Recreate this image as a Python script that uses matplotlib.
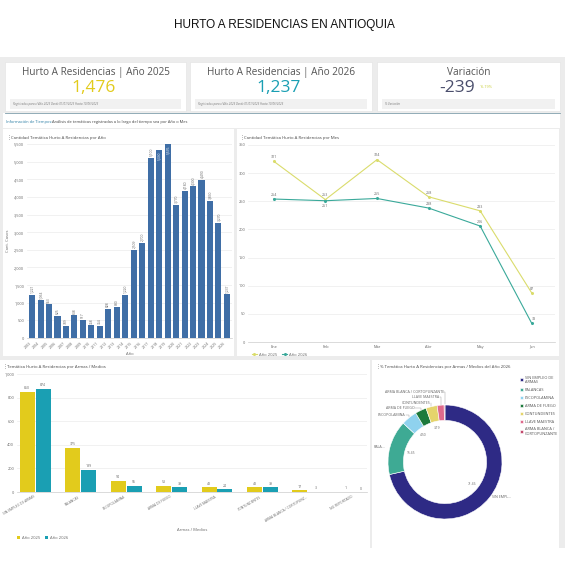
import matplotlib
matplotlib.use("Agg")
import matplotlib.pyplot as plt
from matplotlib.patches import Rectangle
import numpy as np
import textwrap

plt.rcParams['font.family'] = ['Open Sans', 'DejaVu Sans']

# ---------------- data ----------------
years = [str(y) for y in range(2003, 2027)]
cases_by_year = [1221, 1064, 953, 625, 339, 638, 517, 358, 354, 828, 880, 1220,
                 2509, 2700, 5100, 5330, 5576, 3770, 4180, 4300, 4490, 3890, 3270, 1237]
months = ['Ene', 'Feb', 'Mar', 'Abr', 'May', 'Jun']
month_2025 = [321, 253, 324, 258, 233, 87]
month_2026 = [254, 251, 255, 238, 206, 33]
weapons = ['SIN EMPLEO DE ARMAS', 'PALANCAS', 'ESCOPOLAMINA', 'ARMA DE FUEGO',
           'LLAVE MAESTRA', 'CONTUNDENTES', 'ARMA BLANCA / CORTOPUNZANTE', 'NO REPORTADO']
weapons_2025 = [850, 375, 94, 53, 43, 43, 17, 1]
weapons_2026 = [874, 189, 55, 39, 24, 39, 3, 0]
donut_order = ['SIN EMPLEO DE ARMAS', 'PALANCAS', 'ESCOPOLAMINA', 'ARMA DE FUEGO',
               'CONTUNDENTES', 'LLAVE MAESTRA', 'ARMA BLANCA / CORTOPUNZANTE']
donut_short = ['SIN EMPL...', 'PALA...', 'ESCOPOLAMINA', 'ARMA DE FUEGO',
               'CONTUNDENTES', 'LLAVE MAESTRA', 'ARMA BLANCA / CORTOPUNZANTE']
total_2025 = 1476
total_2026 = 1237
series_names = ['Año 2025', 'Año 2026']

# ---------------- styling ----------------
W = H = 565
C_YEL = '#e2cb1c'
C_TEAL = '#1a9fb3'
C_BLUE = '#3f6ea6'
C_L25 = '#dadc6c'
C_L26 = '#3aa99a'
DONUT_COLORS = ['#2e2a85', '#3eaa94', '#8fd2ee', '#1d7a3c', '#e5d46c', '#df6a8c', '#c3486c']
GRID = '#ececec'
TXT = '#666666'

fig = plt.figure(figsize=(5.65, 5.65), dpi=100)
fig.patch.set_facecolor('white')


def px_axes(x0, y0, w, h, z=2):
    return fig.add_axes([x0 / W, 1 - (y0 + h) / H, w / W, h / H], zorder=z)


bg = fig.add_axes([0, 0, 1, 1], zorder=0)
bg.set_xlim(0, W)
bg.set_ylim(H, 0)
bg.axis('off')


def rect(x, y, w, h, c, **kw):
    bg.add_patch(Rectangle((x, y), w, h, facecolor=c, edgecolor=kw.pop('ec', 'none'),
                           lw=kw.pop('lw', 0), **kw))


# page background
rect(0, 57, 565, 491, '#ececec')
bg.text(284, 25, 'HURTO A RESIDENCIAS EN ANTIOQUIA', ha='center', va='center',
        fontsize=8.5, family=['Liberation Sans', 'DejaVu Sans'], color='#111111')

# KPI cards
var = total_2026 - total_2025
var_pct = abs(var) / total_2025 * 100
cards = [
    (5, 181, 'Hurto A Residencias | Año 2025', f'{total_2025:,}', C_YEL,
     'Registrados para el Año 2025 Desde 01/01/2025 Hasta 10/06/2025'),
    (190, 182, 'Hurto A Residencias | Año 2026', f'{total_2026:,}', C_TEAL,
     'Registrados para el Año 2026 Desde 01/01/2026 Hasta 10/06/2026'),
    (377, 183, 'Variación', f'{var:,}', '#4a4e6c', '% Variación'),
]
for i, (x, w, title, val, col, foot) in enumerate(cards):
    rect(x, 62, w, 49, 'white', ec='#e2e2e2', lw=0.4)
    rect(x + 5, 99, w - 10, 9.5, '#f1f1f1')
    cx = x + w / 2
    bg.text(cx, 72.5, title, ha='center', va='center', fontsize=7.2, color='#555555')
    if i < 2:
        bg.text(cx - 2, 88.5, val, ha='center', va='center', fontsize=12.5, color=col)
    else:
        bg.text(cx - 11, 88.5, val, ha='center', va='center', fontsize=12.5, color=col)
        bg.text(cx + 11, 86.5, f'{var_pct:.2f}%', ha='left', va='center',
                fontsize=2.8, color='#c9cf3c')
    bg.text(x + 8, 103.8, foot, ha='left', va='center', fontsize=2.1,
            color='#777777', style='italic')

# info strip
rect(3, 113, 557, 15, 'white')
bg.plot([5, 560], [113.3, 113.3], color='#7f9dab', lw=0.6)
bg.text(6, 122, 'Información de Tiempos:', ha='left', va='center', fontsize=2.9,
        color='#2c7ea5')
bg.text(52.5, 122, 'Análisis de temáticas registradas a lo largo del tiempo sea por Año o Mes',
        ha='left', va='center', fontsize=2.9, color='#444444')

# panels
rect(3, 129, 231, 227, 'white')
rect(237, 129, 322, 227, 'white')
rect(0, 360, 370, 188, 'white')
rect(372, 360, 187, 188, 'white')
rect(0, 548, 565, 17, 'white')


def panel_title(x, y, s):
    bg.text(x, y, '⋮', ha='left', va='center', fontsize=3.6, color='#555555',
            family='DejaVu Sans')
    bg.text(x + 4, y, s, ha='left', va='center', fontsize=3.1, color='#444444')


panel_title(7, 137.5, 'Cantidad Temática Hurto A Residencias por Año')
panel_title(240, 137.5, 'Cantidad Temática Hurto A Residencias por Mes')
panel_title(3, 367, 'Temática Hurto A Residencias por Armas / Medios')
panel_title(376, 367, '% Temática Hurto A Residencias por Armas / Medios del Año 2026')


def style_axes(ax):
    for s in ['top', 'right', 'left']:
        ax.spines[s].set_visible(False)
    ax.spines['bottom'].set_color('#cccccc')
    ax.spines['bottom'].set_linewidth(0.5)
    ax.tick_params(length=0, labelsize=2.8, colors=TXT, pad=2)
    ax.grid(axis='y', color=GRID, lw=0.5)
    ax.set_axisbelow(True)
    ax.set_facecolor('none')


# ---------------- chart 1: por año ----------------
ax1 = px_axes(27, 144, 205, 194)
style_axes(ax1)
x = np.arange(len(years))
ax1.bar(x, cases_by_year, width=0.72, color=C_BLUE)
ymax1 = 5500
ax1.set_ylim(0, ymax1)
ax1.set_xlim(-0.6, len(years) - 0.4)
ax1.set_yticks(np.arange(0, 5501, 500))
ax1.set_yticklabels([f'{v:,}' for v in range(0, 5501, 500)])
ax1.set_xticks(x)
ax1.set_xticklabels(years, rotation=45, ha='right', fontsize=2.6)
ax1.set_ylabel('Cant. Casos', fontsize=3, color=TXT, labelpad=3)
ax1.set_xlabel('Año', fontsize=3, color=TXT, labelpad=2)
for xi, v in zip(x, cases_by_year):
    if v + 330 > ymax1:
        ax1.text(xi, min(v, ymax1) - 60, f'{v:,}', rotation=90, ha='center', va='top',
                 fontsize=2.4, color='white')
    else:
        ax1.text(xi, v + 50, f'{v:,}', rotation=90, ha='center', va='bottom',
                 fontsize=2.4, color=TXT)

# ---------------- chart 2: por mes ----------------
ax2 = px_axes(248, 145, 307, 197)
style_axes(ax2)
xm = np.arange(len(months))
l1, = ax2.plot(xm, month_2025, color=C_L25, lw=0.8, marker='o', ms=1.2)
l2, = ax2.plot(xm, month_2026, color=C_L26, lw=0.8, marker='o', ms=1.2)
ax2.set_xlim(-0.5, 5.45)
ax2.set_ylim(0, 350)
ax2.set_yticks(np.arange(0, 351, 50))
ax2.set_xticks(xm)
ax2.set_xticklabels(months)
for xi, v in zip(xm, month_2025):
    ax2.text(xi, v + 4, str(v), ha='center', va='bottom', fontsize=2.6, color=TXT)
for xi, v in zip(xm, month_2026):
    off = -5 if xi == 1 else 4
    ax2.text(xi + (0.05 if xi == 5 else 0), v + off, str(v), ha='center',
             va='top' if off < 0 else 'bottom', fontsize=2.6, color=TXT)
ax2.legend([l1, l2], series_names, loc='upper left', bbox_to_anchor=(248 / W, 1 - 349 / H),
           bbox_transform=fig.transFigure, ncol=2, frameon=False, fontsize=3,
           handlelength=1.2, columnspacing=1.2, handletextpad=0.5, labelcolor=TXT)

# ---------------- chart 3: armas/medios ----------------
ax3 = px_axes(17, 374, 350, 118)
style_axes(ax3)
xw = np.arange(len(weapons))
bw = 0.33
b1 = ax3.bar(xw - bw / 2 - 0.01, weapons_2025, width=bw, color=C_YEL)
b2 = ax3.bar(xw + bw / 2 + 0.01, weapons_2026, width=bw, color=C_TEAL)
ax3.set_ylim(0, 1000)
ax3.set_xlim(-0.4, 7.3)
ax3.set_yticks(np.arange(0, 1001, 200))
ax3.set_yticklabels([f'{v:,}' for v in range(0, 1001, 200)])
ax3.set_xticks(xw)
ax3.set_xticklabels([w if len(w) < 24 else w[:23] + '...' for w in weapons],
                    rotation=30, ha='right', fontsize=2.3)
ax3.set_xlabel('Armas / Medios', fontsize=3, color=TXT, labelpad=4)
for xi, v in zip(xw, weapons_2025):
    ax3.text(xi - bw / 2 - 0.01, v + 12, str(v), ha='center', va='bottom', fontsize=2.5, color=TXT)
for xi, v in zip(xw, weapons_2026):
    ax3.text(xi + bw / 2 + 0.01, v + 12, str(v), ha='center', va='bottom', fontsize=2.5, color=TXT)
ax3.legend([b1, b2], series_names, loc='upper left', bbox_to_anchor=(13 / W, 1 - 532 / H),
           bbox_transform=fig.transFigure, ncol=2, frameon=False, fontsize=3,
           handlelength=0.7, handleheight=0.7, columnspacing=1.2, handletextpad=0.5,
           labelcolor=TXT)

# ---------------- chart 4: donut ----------------
ax4 = px_axes(388, 405, 114, 114)
ax4.axis('off')
dvals = [weapons_2026[weapons.index(n)] for n in donut_order]
dtotal = sum(dvals)
wedges, _ = ax4.pie(dvals, colors=DONUT_COLORS, startangle=90, counterclock=False,
                    radius=1.0, wedgeprops=dict(width=0.27, edgecolor='white', lw=0.4))
ax4.set_xlim(-1, 1)
ax4.set_ylim(-1, 1)
ax4.set_aspect('equal')
last_ang = None
for i, wdg in enumerate(wedges):
    ang = np.deg2rad((wdg.theta1 + wdg.theta2) / 2)
    pct = dvals[i] / dtotal * 100
    if pct >= 1 and (last_ang is None or abs(ang - last_ang) > np.deg2rad(14)):
        ax4.text(0.62 * np.cos(ang), 0.62 * np.sin(ang), f'{pct:.2f}', ha='center',
                 va='center', fontsize=2.4, color=TXT)
        last_ang = ang
# outer labels (layout positions in radius units)
label_xy = [(0.83, -0.61), (-1.05, 0.26), (-0.70, 0.82), (-0.53, 0.95),
            (-0.26, 1.04), (-0.105, 1.14), (-0.02, 1.23)]
for i, wdg in enumerate(wedges):
    ang = np.deg2rad((wdg.theta1 + wdg.theta2) / 2)
    lx, ly = label_xy[i]
    if i == 0:
        ax4.text(lx, ly, donut_short[i], ha='left', va='center', fontsize=2.6, color=TXT)
    else:
        ax4.text(lx, ly, donut_short[i], ha='right', va='center', fontsize=2.6, color=TXT)
        if i >= 2:
            ex, ey = 1.01 * np.cos(ang), 1.01 * np.sin(ang)
            ax4.plot([lx + 0.01, ex, ex], [ly, ly, ey], color='#999999', lw=0.3,
                     clip_on=False)
fig.legend(wedges, [textwrap.fill(n, 14) for n in donut_order], loc='upper left',
           bbox_to_anchor=(516 / W, 1 - 372 / H), frameon=False, fontsize=2.8,
           handlelength=0.8, handleheight=0.8, labelspacing=1.0, handletextpad=0.6,
           labelcolor='#555555')

fig.savefig('out.png', dpi=100)
